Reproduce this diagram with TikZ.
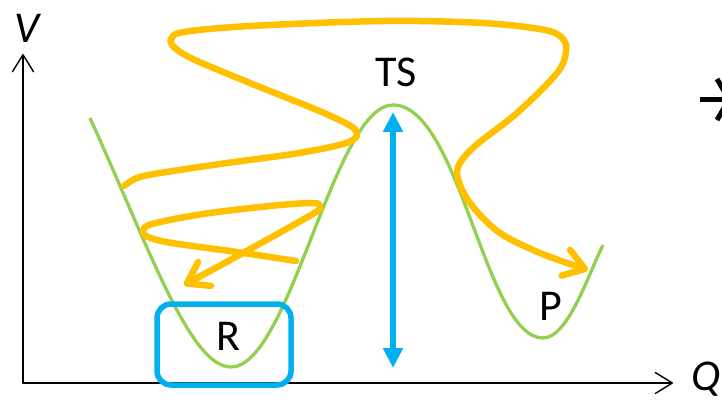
\documentclass[tikz,border=0pt]{standalone}
\usepackage{fontspec}
\setmainfont{Carlito}
\usetikzlibrary{arrows.meta}
\definecolor{curvegreen}{RGB}{146,208,80}
\definecolor{trajorange}{RGB}{255,192,0}
\definecolor{barrierblue}{RGB}{0,176,240}
\tikzset{
  axisline/.style={line width=1.4pt, line cap=round, -{Straight Barb[length=17pt,width=21pt,round]}},
  energy/.style={curvegreen, line width=3.3pt},
  traj/.style={trajorange, line width=6.5pt, line cap=round, line join=round, -{Straight Barb[length=20pt,width=27pt,round]}},
  barrier/.style={barrierblue, line width=5.5pt, {Triangle[length=20pt,width=19pt]}-{Triangle[length=20pt,width=19pt]}},
  statebox/.style={barrierblue, line width=5.5pt, rounded corners=14pt},
  lbl/.style={font=\fontsize{44}{50}\selectfont, inner sep=0pt, anchor=base},
}
\begin{document}
\begin{tikzpicture}[x=1pt,y=-1pt]
\useasboundingbox (0,0) rectangle (722,403);
\clip (0,0) rectangle (722,403);
% axes
\coordinate (origin) at (23,383);
\coordinate (vtop) at (23,54);
\coordinate (qend) at (673,383);
\draw[axisline] (origin) -- (vtop);
\draw[axisline] (origin) -- (qend);
\node[lbl] (V) at (27,43) {\itshape V};
\node[lbl] (Q) at (706,390) {\itshape Q};
% energy curve
\draw[energy] (90,118) .. controls (150,250) and (190,367) .. (231,367)
  .. controls (290,367) and (334,105) .. (393,105)
  .. controls (460,105) and (485,338) .. (543,338)
  .. controls (568,338) and (588,275) .. (603,245);
% labels
\node[lbl] (TS) at (396,87) {TS};
\node[lbl] (R) at (228,350) {R};
\node[lbl] (P) at (551,320) {P};
% barrier arrow
\coordinate (btop) at (393,112);
\coordinate (bbot) at (393,368);
\draw[barrier] (bbot) -- (btop);
% reactant box
\draw[statebox] (157,304) rectangle (291,385);
% trajectories
\draw[traj] plot[smooth, tension=0.55] coordinates {
  (124,186) (137,178) (160,173) (227,163) (293,154) (335,146) (353,140)
  (357,133) (349,125) (317,110) (250,83) (195,60) (175,48) (171,39)
  (184,32) (250,26) (383,21) (483,23) (545,30) (563,39) (566,52)
  (557,73) (517,113) (475,146) (458,167) (460,185) (473,207) (500,233)
  (540,253) (588,270)};
\draw[traj] plot[smooth, tension=0.55] coordinates {
  (296,261) (237,252) (172,243) (148,237) (143,231) (152,224) (203,214)
  (270,206) (313,203) (320,207) (311,215) (243,253) (184,285)};
% partial arrow at right edge
\coordinate (ra) at (700,99.5);
\coordinate (rb) at (729,99.5);
\coordinate (rc) at (717,79);
\coordinate (rd) at (717,120);
\draw[line width=5pt] (ra) -- (rb);
\draw[line width=5pt] (rc) -- (rb) -- (rd);
\end{tikzpicture}
\end{document}
